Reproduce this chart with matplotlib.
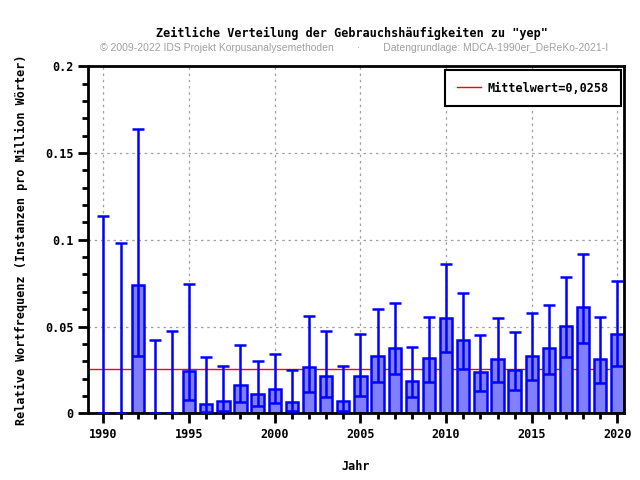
import numpy as np
import matplotlib
matplotlib.use("Agg")
import matplotlib.pyplot as plt
from matplotlib.ticker import MultipleLocator

# relative frequency per year, with the lower/upper bounds of the error bars
years = list(range(1990, 2021))
values = [0.0, 0.0, 0.0737, 0.0, 0.0, 0.0245, 0.0055, 0.0073, 0.0165, 0.0113,
          0.0142, 0.0067, 0.0268, 0.0216, 0.0073, 0.0216, 0.0331, 0.0377, 0.0187, 0.0320,
          0.0550, 0.0423, 0.0239, 0.0314, 0.0251, 0.0331, 0.0377, 0.0503, 0.0613, 0.0314,
          0.0457]
lower = [0.0, 0.0, 0.0331, 0.0, 0.0, 0.0076, 0.0008, 0.0015, 0.0067, 0.0044,
         0.0061, 0.0015, 0.0122, 0.0095, 0.0015, 0.0101, 0.0180, 0.0226, 0.0095, 0.0180,
         0.0352, 0.0256, 0.0130, 0.0180, 0.0134, 0.0191, 0.0226, 0.0324, 0.0404, 0.0174,
         0.0272]
upper = [0.1136, 0.0984, 0.1640, 0.0423, 0.0475, 0.0745, 0.0325, 0.0274, 0.0394, 0.0302,
         0.0343, 0.0249, 0.0559, 0.0475, 0.0272, 0.0456, 0.0599, 0.0636, 0.0381, 0.0553,
         0.0860, 0.0693, 0.0450, 0.0548, 0.0469, 0.0578, 0.0622, 0.0783, 0.0916, 0.0553,
         0.0760]
mean_value = 0.0258

mono = "DejaVu Sans Mono"

fig = plt.figure(figsize=(6.4, 4.8), dpi=100)
ax = fig.add_axes([0.1375, 0.139, 0.838, 0.723])

vals = np.array(values)
yerr = [vals - np.array(lower), np.array(upper) - vals]

ax.axhline(mean_value, color="#ff0000", lw=1, zorder=1, label="Mittelwert=0,0258")
ax.bar(years, values, width=0.72, color="#8080ff", edgecolor="#0000ff", lw=1.8, zorder=2)
ax.errorbar(years, values, yerr=yerr, fmt="none", ecolor="#0000ff", elinewidth=1.8,
            capsize=4, capthick=1.8, zorder=3)

ax.set_xlim(1989.1, 2020.4)
ax.set_ylim(0, 0.2)
ax.xaxis.set_major_locator(MultipleLocator(5))
ax.xaxis.set_minor_locator(MultipleLocator(1))
ax.yaxis.set_major_locator(MultipleLocator(0.05))
ax.yaxis.set_minor_locator(MultipleLocator(0.01))
ax.set_yticks([0, 0.05, 0.1, 0.15, 0.2])
ax.set_yticklabels(["0", "0.05", "0.1", "0.15", "0.2"])
ax.grid(True, which="major", color="#a0a0a0", ls=(0, (2, 3)), lw=0.9, zorder=0)
ax.set_axisbelow(True)

ax.tick_params(which="major", direction="out", length=7, width=2, labelsize=8.5)
ax.tick_params(which="minor", direction="out", length=4, width=2)
for lab in ax.get_xticklabels() + ax.get_yticklabels():
    lab.set_fontfamily(mono)
    lab.set_fontweight("bold")
for s in ax.spines.values():
    s.set_linewidth(2)

ax.set_xlabel("Jahr", fontfamily=mono, fontweight="bold", fontsize=8.5, labelpad=14)
ax.set_ylabel("Relative Wortfrequenz (Instanzen pro Million Wörter)", fontfamily=mono,
              fontweight="bold", fontsize=8.5, labelpad=12)

leg = ax.legend(loc="upper right", prop={"family": mono, "weight": "bold", "size": 8.5},
                fancybox=False, framealpha=1, edgecolor="black", borderpad=1.0,
                handlelength=2.0, handletextpad=0.6, borderaxespad=0.3,
                bbox_to_anchor=(1.0, 1.0))
leg.get_frame().set_linewidth(1.5)

fig.text(0.55, 0.923, 'Zeitliche Verteilung der Gebrauchshäufigkeiten zu "yep"',
         ha="center", fontfamily=mono, fontweight="bold", fontsize=8.5)
fig.text(0.553, 0.894, "© 2009-2022 IDS Projekt Korpusanalysemethoden        ·        "
         "Datengrundlage: MDCA-1990er_DeReKo-2021-I",
         ha="center", fontfamily="Liberation Sans", color="#a0a0a0", fontsize=7.5)

fig.savefig("out.png", dpi=100)
